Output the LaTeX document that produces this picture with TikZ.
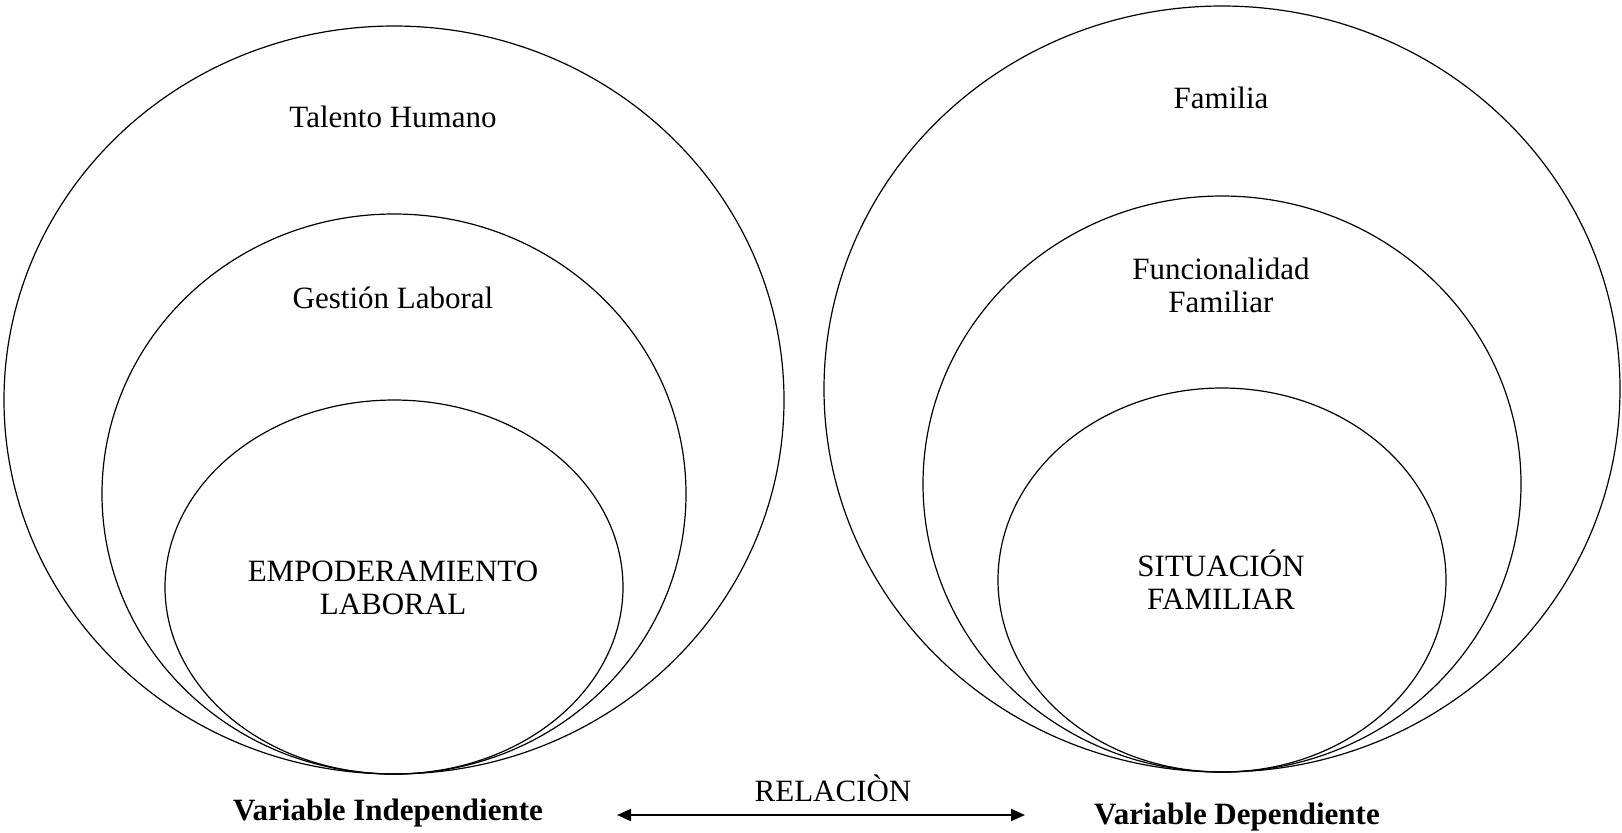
\documentclass[tikz,border=0pt]{standalone}
\usepackage{fontspec}
\setmainfont{Liberation Serif}
\usetikzlibrary{positioning,calc,arrows.meta}

\begin{document}
\begin{tikzpicture}[x=0.5pt,y=-0.5pt,
    ring/.style={draw=black, line width=0.6pt},
    lbl/.style={align=center, inner sep=0pt, font=\fontsize{15.5}{16.5}\selectfont},
    varlbl/.style={lbl, font=\fontsize{15.5}{16.5}\selectfont\bfseries}]
    \useasboundingbox (0,0) rectangle (1622,832);

    \draw[ring] (394,400) ellipse [x radius=390, y radius=374];
    \draw[ring] (394,494) ellipse [x radius=292, y radius=280];
    \draw[ring] (394,587) ellipse [x radius=229, y radius=187];

    \draw[ring] (1222,389) ellipse [x radius=398, y radius=383];
    \draw[ring] (1222,484) ellipse [x radius=299, y radius=288];
    \draw[ring] (1222,580) ellipse [x radius=224, y radius=192];

    \node[lbl] (talento) at (393,117) {Talento Humano};
    \node[lbl] (gestion) at (393,298) {Gestión Laboral};
    \node[lbl] (empoderamiento) at (393,588) {EMPODERAMIENTO\\LABORAL};

    \node[lbl] (familia) at (1221,98) {Familia};
    \node[lbl] (funcionalidad) at (1221,285) {Funcionalidad\\Familiar};
    \node[lbl] (situacion) at (1221,580) {SITUACIÓN\\FAMILIAR};

    \node[varlbl] (vind) at (388,813) {Variable Independiente};
    \node[varlbl] (vdep) at (1237,817) {Variable Dependiente};
    \node[lbl] (relacion) at (833,788) {RELACIÒN};

    \coordinate (arrowL) at (617,815);
    \coordinate (arrowR) at (1025,815);
    \draw[line width=1pt, {Triangle[length=7pt,width=6pt]}-{Triangle[length=7pt,width=6pt]}] (arrowL) -- (arrowR);
\end{tikzpicture}
\end{document}
